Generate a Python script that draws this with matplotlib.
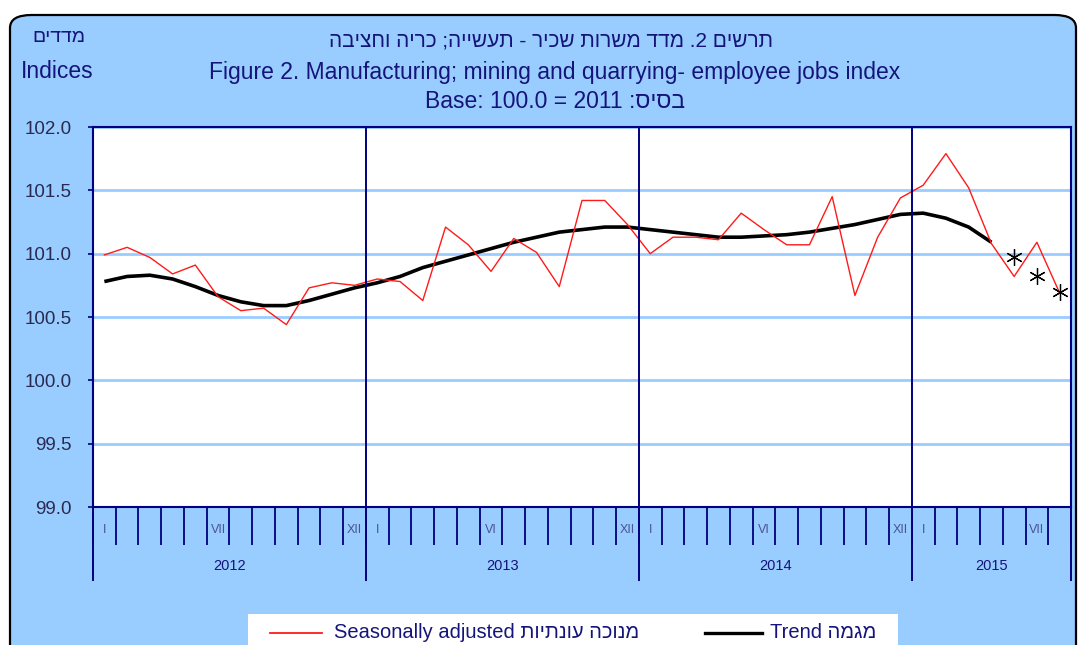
import re
import numpy as np
import matplotlib
matplotlib.use("Agg")
import matplotlib.pyplot as plt
import matplotlib.transforms as mtransforms
from matplotlib.patches import FancyBboxPatch, Rectangle
from matplotlib.lines import Line2D

# data, one value per month, Jan 2012 .. Jul 2015
years = ["2012", "2013", "2014", "2015"]
months_per_year = [12, 12, 12, 7]
month_labels = [
    [(0, "I"), (5, "VII"), (11, "XII")],
    [(0, "I"), (5, "VI"), (11, "XII")],
    [(0, "I"), (5, "VI"), (11, "XII")],
    [(0, "I"), (5, "VII")],
]
seasonally_adjusted = [
    100.99, 101.05, 100.97, 100.84, 100.91, 100.66, 100.55, 100.57, 100.44, 100.73, 100.77, 100.75,
    100.80, 100.78, 100.63, 101.21, 101.07, 100.86, 101.12, 101.01, 100.74, 101.42, 101.42, 101.23,
    101.00, 101.13, 101.13, 101.11, 101.32, 101.19, 101.07, 101.07, 101.45, 100.67, 101.13, 101.44,
    101.54, 101.79, 101.52, 101.08, 100.82, 101.09, 100.69,
]
trend = [
    100.78, 100.82, 100.83, 100.80, 100.74, 100.67, 100.62, 100.59, 100.59, 100.63, 100.68, 100.73,
    100.77, 100.82, 100.89, 100.94, 100.99, 101.04, 101.09, 101.13, 101.17, 101.19, 101.21, 101.21,
    101.19, 101.17, 101.15, 101.13, 101.13, 101.14, 101.15, 101.17, 101.20, 101.23, 101.27, 101.31,
    101.32, 101.28, 101.21, 101.09, np.nan, np.nan, np.nan,
]
# provisional estimates, marked with asterisks
provisional = [np.nan] * 40 + [100.97, 100.82, 100.70]
y_ticks = [99.0, 99.5, 100.0, 100.5, 101.0, 101.5, 102.0]

W, H = 1079, 645
NAVY = "#000080"
TEXT = "#14147a"
FONT = ["Liberation Sans", "DejaVu Sans"]


def fx(px):
    return px / W


def fy(py):
    return 1 - py / H


def rtl(s):
    # matplotlib has no bidi support: reverse hebrew, keep numbers readable
    r = s[::-1]
    return re.sub(r"\d+(\.\d+)?", lambda m: m.group(0)[::-1], r)


def draw_background(fig):
    bg = FancyBboxPatch((fx(10), -0.05), fx(1076 - 10), fy(15) + 0.05,
                        boxstyle="round,pad=0,rounding_size=0.02",
                        transform=fig.transFigure, facecolor="#99CCFF",
                        edgecolor="black", lw=1.6, zorder=0)
    fig.add_artist(bg)


def draw_titles(fig):
    fig.text(fx(86), fy(38), rtl("מדדים"), ha="right", va="center", fontsize=14, color=TEXT)
    fig.text(fx(21), fy(72), "Indices", ha="left", va="center", fontsize=16.5, color=TEXT)
    fig.text(fx(551), fy(41), rtl("תרשים 2. מדד משרות שכיר - תעשייה; כריה וחציבה"),
             ha="center", va="center", fontsize=15, color=TEXT)
    fig.text(fx(555), fy(72), "Figure 2. Manufacturing; mining and quarrying- employee jobs index",
             ha="center", va="center", fontsize=16.5, color=TEXT)
    fig.text(fx(555), fy(102), "Base: 100.0 = 2011 " + rtl("בסיס:"),
             ha="center", va="center", fontsize=16.5, color=TEXT)


def draw_chart(ax):
    n = len(seasonally_adjusted)
    x = np.arange(n)
    ax.set_facecolor("white")
    ax.plot(x, trend, color="black", lw=2.6, zorder=3, solid_capstyle="butt")
    ax.plot(x, seasonally_adjusted, color="#ff1a1a", lw=1.0, zorder=4)
    ax.plot(x, provisional, ls="none", marker=(6, 2, 0), ms=12, mew=0.9,
            color="black", zorder=5)

    ax.set_xlim(-0.5, n - 0.5)
    ax.set_ylim(y_ticks[0], y_ticks[-1])
    ax.set_yticks(y_ticks)
    ax.set_yticklabels([f"{v:.1f}" for v in y_ticks])
    ax.yaxis.grid(True, color="#99CCFF", lw=2)
    ax.set_axisbelow(True)
    ax.tick_params(axis="y", direction="out", length=3.5, width=1.2, color=NAVY,
                   pad=12, labelsize=13.5, labelcolor="#2a2a50")
    ax.set_xticks([])
    for s in ax.spines.values():
        s.set_color(NAVY)
        s.set_linewidth(1.5)

    trans = mtransforms.blended_transform_factory(ax.transData, ax.transAxes)
    # month ticks below the plot
    bounds = np.arange(n + 1) - 0.5
    ax.vlines(bounds, -0.1, 0, transform=trans, color=NAVY, lw=1.3, clip_on=False)
    # year dividers, through the plot and down past the year labels
    start = 0
    year_bounds = [-0.5]
    for k, (yr, m) in enumerate(zip(years, months_per_year)):
        for idx, lab in month_labels[k]:
            ax.text(start + idx, -0.06, lab, transform=trans, ha="center", va="center",
                    fontsize=9, color="#4a5590")
        ax.text(start + (m - 1) / 2, -0.155, yr, transform=trans, ha="center", va="center",
                fontsize=10.5, color=TEXT)
        start += m
        year_bounds.append(start - 0.5)
    ax.vlines(year_bounds, -0.195, 1, transform=trans, color=NAVY, lw=1.4, clip_on=False, zorder=6)


def draw_legend(fig):
    box = Rectangle((fx(248), -0.01), fx(898 - 248), fy(614) + 0.01,
                    transform=fig.transFigure, facecolor="white", edgecolor="none", zorder=1)
    fig.add_artist(box)
    fig.add_artist(Line2D([fx(270), fx(322)], [fy(633), fy(633)], transform=fig.transFigure,
                          color="#ff1a1a", lw=1.3))
    fig.text(fx(334), fy(633), "Seasonally adjusted " + rtl("מנוכה עונתיות"),
             ha="left", va="center", fontsize=14.5, color=TEXT)
    fig.add_artist(Line2D([fx(705), fx(762)], [fy(633), fy(633)], transform=fig.transFigure,
                          color="black", lw=2.4))
    fig.text(fx(770), fy(633), "Trend " + rtl("מגמה"),
             ha="left", va="center", fontsize=14.5, color=TEXT)


def main():
    plt.rcParams["font.family"] = FONT
    fig = plt.figure(figsize=(W / 100, H / 100), dpi=100, facecolor="white")
    draw_background(fig)
    ax = fig.add_axes([fx(93), fy(507), fx(1071 - 93), (507 - 127) / H])
    ax.set_zorder(2)
    draw_chart(ax)
    draw_titles(fig)
    draw_legend(fig)
    fig.savefig("out.png", dpi=100)


if __name__ == "__main__":
    main()
